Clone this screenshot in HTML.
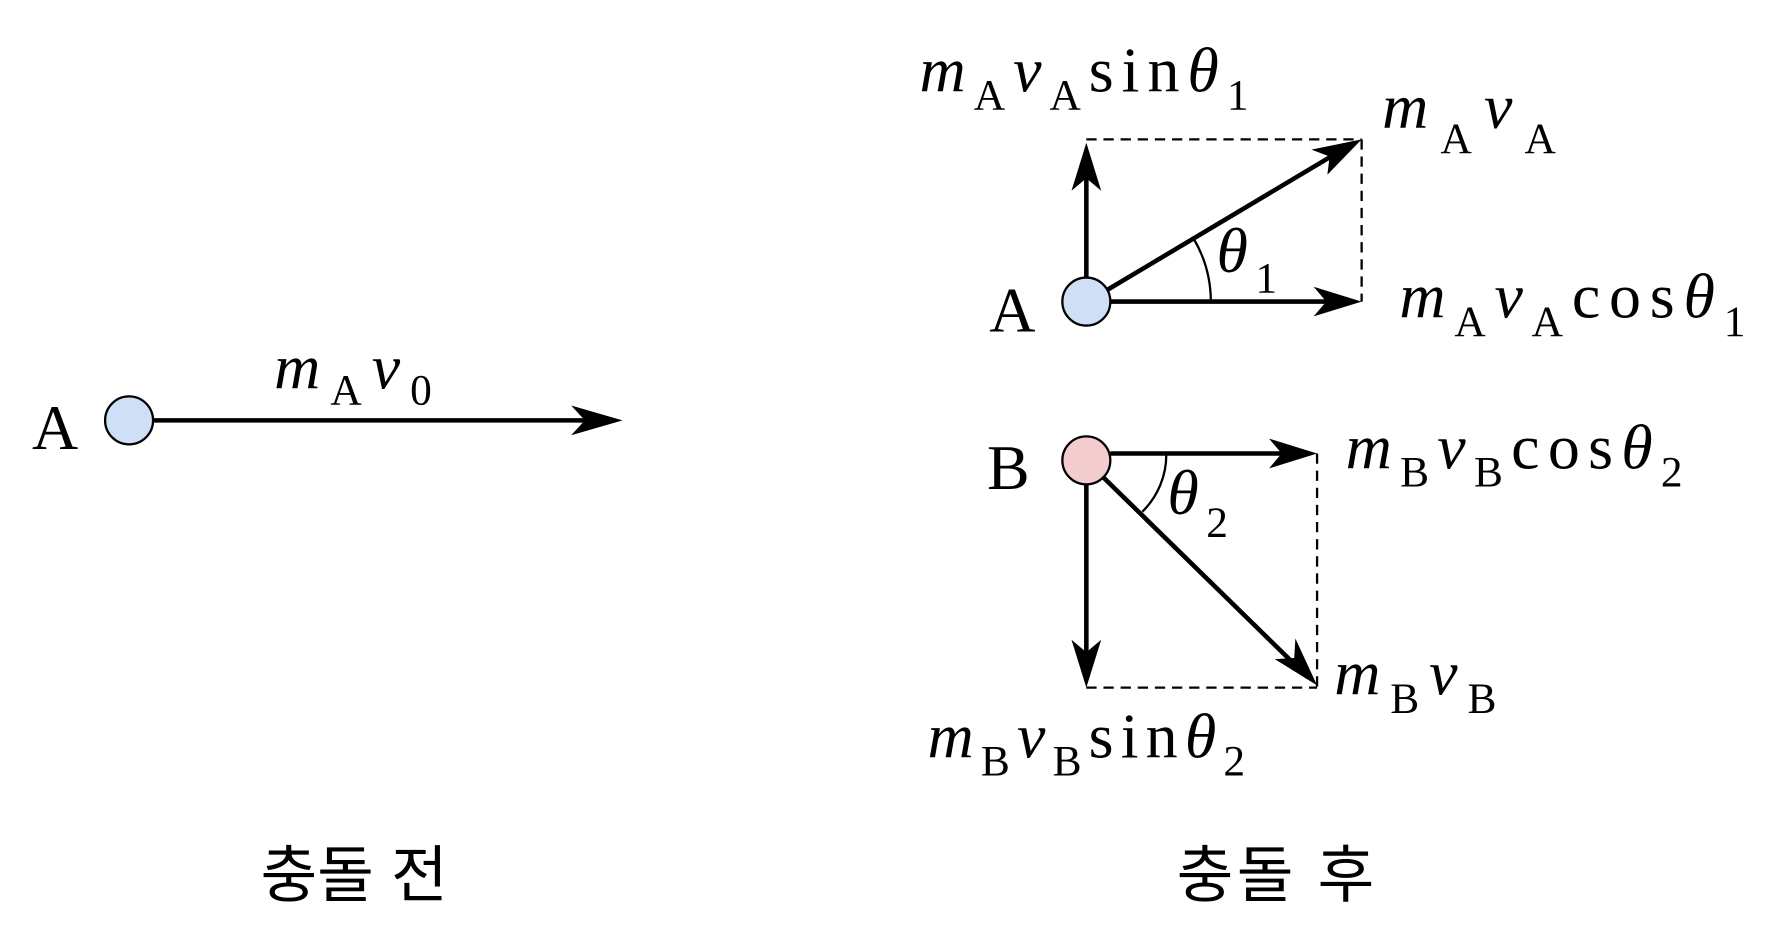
<!DOCTYPE html>
<html><head><meta charset="utf-8"><style>
html,body{margin:0;padding:0;background:#fff;width:1782px;height:936px;overflow:hidden}
svg{display:block}
text{font-family:"Liberation Serif",serif;fill:#000}
.m{font-style:italic;font-size:56px}
.s{font-size:38px}
.r{font-size:56px}
.k{font-family:"Liberation Sans","Noto Sans CJK KR",sans-serif;font-size:54px}
</style></head><body>
<svg width="1782" height="936" viewBox="0 0 1560 819.4" preserveAspectRatio="none" xmlns="http://www.w3.org/2000/svg">
<g stroke="#000" stroke-width="4" fill="none">
<line x1="134" y1="368" x2="535" y2="368"/>
<line x1="951" y1="243" x2="951" y2="135"/>
<line x1="972" y1="264" x2="1182" y2="264"/>
<line x1="969" y1="254" x2="1182" y2="127"/>
<line x1="972" y1="397" x2="1143" y2="397"/>
<line x1="951" y1="424" x2="951" y2="592"/>
<line x1="966" y1="418" x2="1145" y2="593"/>
</g>
<g stroke="#000" stroke-width="2" fill="none" stroke-dasharray="9,6">
<line x1="951" y1="122" x2="1192" y2="122"/>
<line x1="1192" y1="122" x2="1192" y2="264"/>
<line x1="1153" y1="397" x2="1153" y2="602"/>
<line x1="951" y1="602" x2="1153" y2="602"/>
</g>
<g stroke="#000" stroke-width="2" fill="none">
<path d="M1060 264 A109 109 0 0 0 1045 209"/>
<path d="M1021 397 A70 70 0 0 1 1000 448"/>
</g>
<g fill="#000">
<path d="M545 368 L500 355 L512 368 L500 381 Z"/>
<path d="M1192 264 L1150 251 L1161 264 L1150 277 Z"/>
<path d="M951 125 L938 167 L951 156 L964 167 Z"/>
<path d="M1192 122 L1148 131 L1164 137 L1162 153 Z"/>
<path d="M1153 397 L1111 384 L1122 397 L1111 410 Z"/>
<path d="M951 602 L938 560 L951 571 L964 560 Z"/>
<path d="M1153 600 L1134 559 L1133 576 L1116 577 Z"/>
</g>
<g stroke="#000" stroke-width="2">
<circle cx="113" cy="368" r="21" fill="#cfdff6"/>
<circle cx="951" cy="264" r="21" fill="#cfdff6"/>
<circle cx="951" cy="403" r="21" fill="#f3cccd"/>
</g>
<text class="r" x="28" y="393">A</text>
<text x="240" y="340" textLength="138" lengthAdjust="spacing"><tspan class="m">m</tspan><tspan class="s" dy="14">A</tspan><tspan class="m" dy="-14">v</tspan><tspan class="s" dy="14">0</tspan></text>
<text class="r" x="866" y="290">A</text>
<text class="r" x="864" y="428">B</text>
<text x="805" y="80" textLength="288" lengthAdjust="spacing"><tspan class="m">m</tspan><tspan class="s" dy="16">A</tspan><tspan class="m" dy="-16">v</tspan><tspan class="s" dy="16">A</tspan><tspan class="r" dy="-16">sin</tspan><tspan class="m">θ</tspan><tspan class="s" dy="16">1</tspan></text>
<text x="1210" y="112" textLength="152" lengthAdjust="spacing"><tspan class="m">m</tspan><tspan class="s" dy="22">A</tspan><tspan class="m" dy="-22">v</tspan><tspan class="s" dy="22">A</tspan></text>
<text x="1225" y="278" textLength="303" lengthAdjust="spacing"><tspan class="m">m</tspan><tspan class="s" dy="16">A</tspan><tspan class="m" dy="-16">v</tspan><tspan class="s" dy="16">A</tspan><tspan class="r" dy="-16">cos</tspan><tspan class="m">θ</tspan><tspan class="s" dy="16">1</tspan></text>
<text x="1065" y="238" textLength="53" lengthAdjust="spacing"><tspan class="m">θ</tspan><tspan class="s" dy="18">1</tspan></text>
<text x="1022" y="450" textLength="53" lengthAdjust="spacing"><tspan class="m">θ</tspan><tspan class="s" dy="20">2</tspan></text>
<text x="1178" y="410" textLength="295" lengthAdjust="spacing"><tspan class="m">m</tspan><tspan class="s" dy="16">B</tspan><tspan class="m" dy="-16">v</tspan><tspan class="s" dy="16">B</tspan><tspan class="r" dy="-16">cos</tspan><tspan class="m">θ</tspan><tspan class="s" dy="16">2</tspan></text>
<text x="1168" y="608" textLength="142" lengthAdjust="spacing"><tspan class="m">m</tspan><tspan class="s" dy="16">B</tspan><tspan class="m" dy="-16">v</tspan><tspan class="s" dy="16">B</tspan></text>
<text x="812" y="663" textLength="278" lengthAdjust="spacing"><tspan class="m">m</tspan><tspan class="s" dy="16">B</tspan><tspan class="m" dy="-16">v</tspan><tspan class="s" dy="16">B</tspan><tspan class="r" dy="-16">sin</tspan><tspan class="m">θ</tspan><tspan class="s" dy="16">2</tspan></text>
<text class="k" x="228" y="785" textLength="164" lengthAdjust="spacing">충돌 전</text>
<text class="k" x="1030" y="785" textLength="173" lengthAdjust="spacing">충돌 후</text>
</svg>
</body></html>
